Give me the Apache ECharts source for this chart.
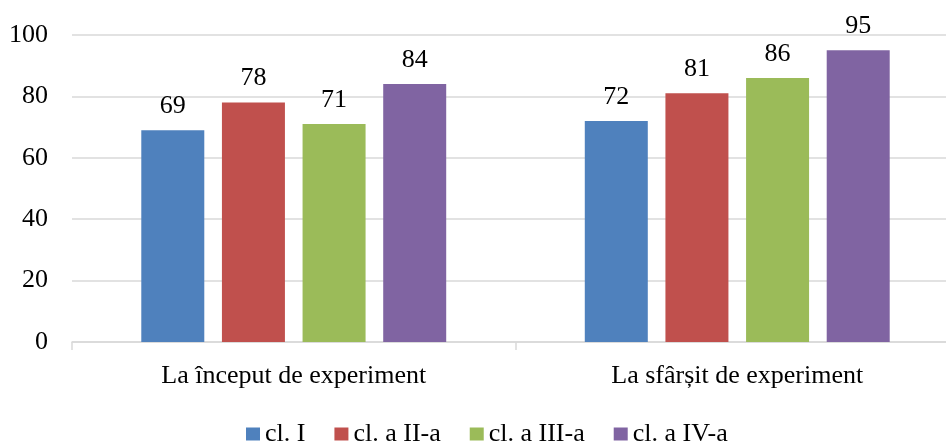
<!DOCTYPE html>
<html><head><meta charset="utf-8">
<script src="https://cdn.jsdelivr.net/npm/echarts@6/dist/echarts.min.js"></script>
<style>html,body{margin:0;padding:0;background:#fff;overflow:hidden}#c{width:962px;height:445px}</style>
</head><body><div id="c"></div>
<script>
const categories = ['La început de experiment', 'La sfârșit de experiment'];
const seriesNames = ['cl. I', 'cl. a II-a', 'cl. a III-a', 'cl. a IV-a'];
const clI = [69, 72];
const clII = [78, 81];
const clIII = [71, 86];
const clIV = [84, 95];
const colors = ['#4F81BD', '#C0504D', '#9BBB59', '#8064A2'];
const values = [clI, clII, clIII, clIV];
const font = "'Liberation Serif', 'Times New Roman', serif";

const chart = echarts.init(document.getElementById('c'));
chart.setOption({
  animation: false,
  textStyle: { fontFamily: font },
  grid: { left: 72, top: 35, width: 887, height: 307, containLabel: false },
  legend: {
    top: 416, left: 241,
    itemWidth: 14, itemHeight: 13, itemGap: 29,
    icon: 'rect',
    textStyle: { fontFamily: font, fontSize: 26, color: '#000' },
    data: seriesNames
  },
  xAxis: {
    type: 'category', data: categories,
    axisLine: { lineStyle: { color: '#d9d9d9', width: 1.5 } },
    axisTick: { show: true, length: 8, lineStyle: { color: '#d9d9d9', width: 1.5 } },
    axisLabel: { fontFamily: font, fontSize: 26, color: '#000', margin: 21 }
  },
  yAxis: {
    type: 'value', min: 0, max: 100, interval: 20,
    axisLine: { show: false }, axisTick: { show: false },
    splitLine: { lineStyle: { color: '#d9d9d9', width: 1.5 } },
    axisLabel: { fontFamily: font, fontSize: 26, color: '#000', margin: 24 }
  },
  series: seriesNames.map((n, i) => ({
    name: n, type: 'bar', data: values[i],
    barWidth: 63, barGap: '28%',
    itemStyle: { color: colors[i] },
    label: { show: true, position: 'top', distance: 11, fontFamily: font, fontSize: 26, color: '#000' }
  }))
});
</script></body></html>
